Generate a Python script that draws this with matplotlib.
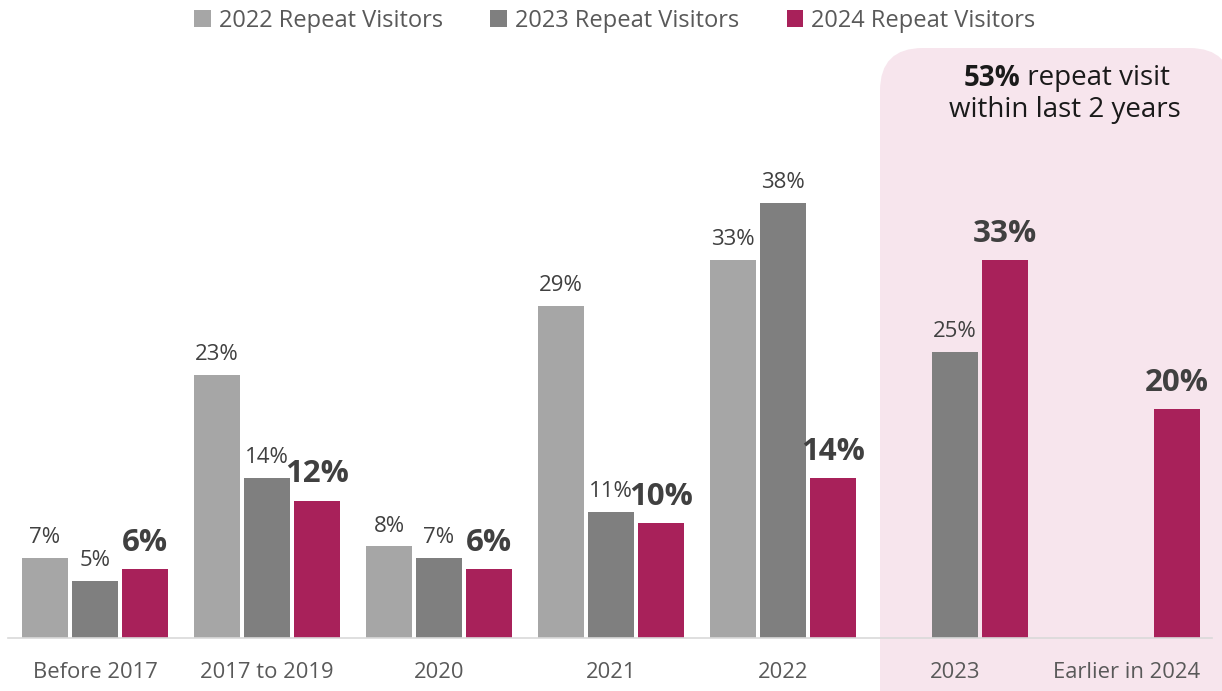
import matplotlib.pyplot as plt
import numpy as np
from matplotlib.patches import FancyBboxPatch

plt.rcParams['font.family'] = ['Open Sans', 'DejaVu Sans']

categories = ["Before 2017", "2017 to 2019", "2020", "2021", "2022", "2023", "Earlier in 2024"]
series_names = ["2022 Repeat Visitors", "2023 Repeat Visitors", "2024 Repeat Visitors"]
visitors_2022 = [7, 23, 8, 29, 33, None, None]
visitors_2023 = [5, 14, 7, 11, 38, 25, None]
visitors_2024 = [6, 12, 6, 10, 14, 33, 20]
colors = ["#a6a6a6", "#7f7f7f", "#a8215a"]

W, H = 1222, 691
fig = plt.figure(figsize=(W / 100, H / 100), dpi=100)

# pink highlight box behind the last two categories (figure pixels)
box_x0, box_y_top = 880, 48
bg = FancyBboxPatch((box_x0 / W, -0.2), (W + 10 - box_x0) / W, (H - box_y_top) / H + 0.2,
                    boxstyle="round,pad=0,rounding_size=0.035",
                    transform=fig.transFigure, facecolor="#f7e5ed", edgecolor="none",
                    mutation_aspect=W / H, zorder=-5)
fig.patches.append(bg)

ax = fig.add_axes([8 / W, (H - 638) / H, (1212 - 8) / W, (638 - 40) / H])
ax.patch.set_alpha(0)
ax.set_zorder(2)

x = np.arange(len(categories))
width = 0.267
offset = 0.291
all_series = [visitors_2022, visitors_2023, visitors_2024]

for k, (vals, color, name) in enumerate(zip(all_series, colors, series_names)):
    xs = [x[i] + (k - 1) * offset for i, v in enumerate(vals) if v is not None]
    hs = [v for v in vals if v is not None]
    bars = ax.bar(xs, hs, width, color=color, label=name, zorder=2)
    for b, v in zip(bars, hs):
        if k == 2:
            ax.annotate(f"{v}%", (b.get_x() + b.get_width() / 2, v), xytext=(0, 8),
                        textcoords="offset points", ha="center", va="bottom",
                        fontsize=22.5, fontweight="bold", color="#404040")
        else:
            ax.annotate(f"{v}%", (b.get_x() + b.get_width() / 2, v), xytext=(0, 7),
                        textcoords="offset points", ha="center", va="bottom",
                        fontsize=16, color="#404040")

ax.set_xlim(-0.506, 6.494)
ax.set_ylim(0, 52.2)
ax.set_xticks(x)
ax.set_xticklabels(categories, fontsize=15.8, color="#595959")
ax.tick_params(axis="x", length=0, pad=17)
ax.set_yticks([])
for s in ["top", "right", "left"]:
    ax.spines[s].set_visible(False)
ax.spines["bottom"].set_color("#d9d9d9")
ax.spines["bottom"].set_linewidth(1.2)

fig.legend(loc="upper center", bbox_to_anchor=(615 / W, 1.018), ncol=3, frameon=False,
           fontsize=17, labelcolor="#595959", handlelength=0.7, handleheight=0.7,
           handletextpad=0.35, columnspacing=2.0)

fig.text(1020 / W, 1 - 78 / H, "53%", ha="right", va="center", fontsize=20,
         fontweight="bold", color="#1a1a1a")
fig.text(1020 / W, 1 - 78 / H, " repeat visit", ha="left", va="center", fontsize=20,
         color="#1a1a1a")
fig.text(1065 / W, 1 - 110 / H, "within last 2 years", ha="center", va="center",
         fontsize=20, color="#1a1a1a")

fig.savefig("out.png", dpi=100)
